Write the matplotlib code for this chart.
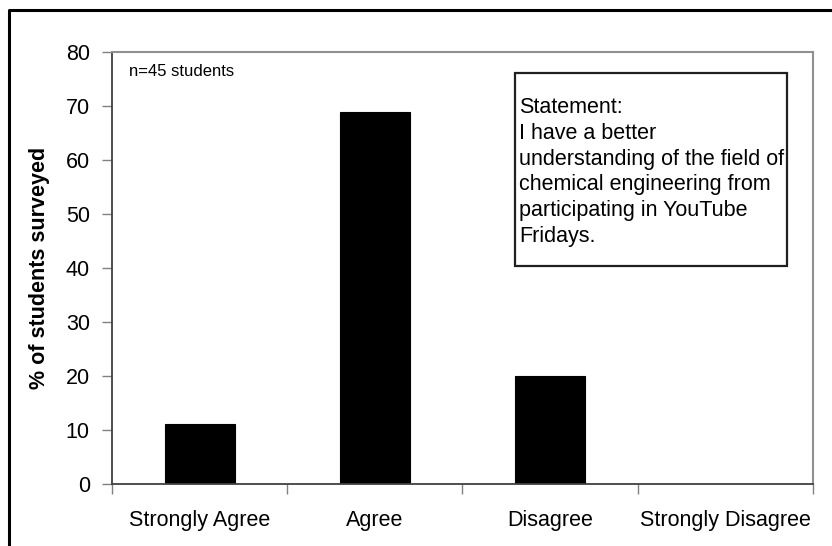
"""
Survey bar chart: YouTube Fridays statement responses.
"""
import matplotlib
matplotlib.use("Agg")
import matplotlib.pyplot as plt
from matplotlib.patches import Rectangle
from matplotlib.lines import Line2D

# --- data ---
categories = ["Strongly Agree", "Agree", "Disagree", "Strongly Disagree"]
percent = [11.1, 68.9, 20.0, 0.0]
y_ticks = [0, 10, 20, 30, 40, 50, 60, 70, 80]
y_label = "% of students surveyed"
note = "n=45 students"
statement = ("Statement:\nI have a better\nunderstanding of the field of\n"
             "chemical engineering from\nparticipating in YouTube\nFridays.")

plt.rcParams['font.family'] = ['Liberation Sans', 'DejaVu Sans']

W, H = 832, 546
fig = plt.figure(figsize=(W / 100, H / 100), dpi=100)
ax = fig.add_axes([112 / W, 1 - 484 / H, (813 - 112) / W, (484 - 52) / H])

# 1. bars
x = list(range(len(categories)))
ax.bar(x, percent, width=0.4, color='black', edgecolor='black', linewidth=0.8)

# 2. axes / ticks in the old spreadsheet look
ax.set_xlim(-0.5, len(categories) - 0.5)
ax.set_ylim(0, 80)
ax.set_yticks(y_ticks)
ax.tick_params(axis='y', labelsize=15.5, length=7, width=1, color='#808080',
               direction='out', pad=9)
ax.set_xticks([i - 0.5 for i in range(len(categories) + 1)])
ax.set_xticklabels([])
ax.tick_params(axis='x', which='major', length=7, width=1, color='#808080',
               direction='out')
ax.set_xticks(x, minor=True)
ax.set_xticklabels(categories, minor=True, fontsize=15.5)
ax.tick_params(axis='x', which='minor', length=0, pad=19)

for side in ('left', 'bottom'):
    ax.spines[side].set_color('#404040')
    ax.spines[side].set_linewidth(1.3)
for side in ('top', 'right'):
    ax.spines[side].set_color('#909090')
    ax.spines[side].set_linewidth(1.5)

ax.set_ylabel(y_label, fontsize=15.5, fontweight='bold', labelpad=11)

# 3. annotations
fig.text(129 / W, 1 - 71 / H, note, fontsize=12, va='center', ha='left')

fig.patches.append(Rectangle((515 / W, 1 - 266 / H), (787 - 515) / W, (266 - 73) / H,
                             transform=fig.transFigure, fill=False,
                             edgecolor='#202020', linewidth=1.6))
fig.text(519 / W, 1 - 172 / H, statement, fontsize=15.5, va='center', ha='left',
         linespacing=1.3)

# 4. outer frame (left and top edges only visible)
fig.lines.append(Line2D([9 / W, 9 / W, 1.0], [0.0, 1 - 10 / H, 1 - 10 / H],
                        transform=fig.transFigure, color='black', linewidth=2.2))

fig.savefig("out.png", dpi=100)
